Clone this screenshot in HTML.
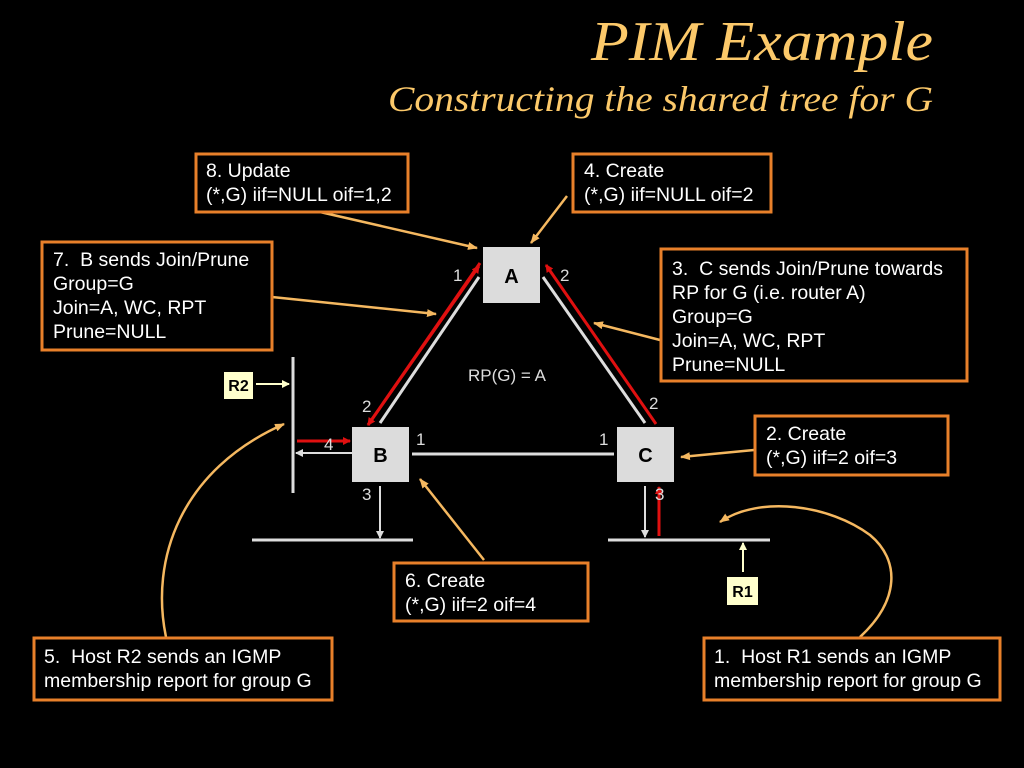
<!DOCTYPE html>
<html><head><meta charset="utf-8"><style>
html,body{margin:0;padding:0;background:#000;}
svg{display:block;}
.s{font-family:"Liberation Sans",sans-serif;}
.t{font-family:"Liberation Serif",serif;font-style:italic;}
</style></head><body>
<svg width="1024" height="768" viewBox="0 0 1024 768" xmlns="http://www.w3.org/2000/svg">
<defs>
<marker id="ow" markerWidth="8" markerHeight="8" refX="7" refY="4" orient="auto" markerUnits="userSpaceOnUse"><path d="M0,0 L8,4 L0,8 z" fill="#ddd"/></marker>
<marker id="or" markerWidth="8" markerHeight="8" refX="7" refY="4" orient="auto" markerUnits="userSpaceOnUse"><path d="M0,0 L8,4 L0,8 z" fill="#e01010"/></marker>
<marker id="oo" markerWidth="10" markerHeight="10" refX="9" refY="5" orient="auto" markerUnits="userSpaceOnUse"><path d="M0,1 L10,5 L0,9 z" fill="#f5b860"/></marker>
<marker id="oy" markerWidth="8" markerHeight="8" refX="7" refY="4" orient="auto" markerUnits="userSpaceOnUse"><path d="M0,0 L8,4 L0,8 z" fill="#ffffcc"/></marker>
</defs>
<rect width="1024" height="768" fill="#000"/>
<text class="t" x="933" y="60" text-anchor="end" font-size="56" fill="#fcc96a" textLength="342" lengthAdjust="spacingAndGlyphs">PIM Example</text>
<text class="t" x="933" y="111" text-anchor="end" font-size="36" fill="#fcc96a" textLength="545" lengthAdjust="spacingAndGlyphs">Constructing the shared tree for G</text>

<line x1="480" y1="263" x2="368" y2="425" stroke="#e01010" stroke-width="3" marker-end="url(#or)"/>
<line x1="368" y1="425" x2="479" y2="266" stroke="#e01010" stroke-width="3" marker-end="url(#or)"/>
<line x1="479" y1="277" x2="380" y2="423" stroke="#ddd" stroke-width="3"/>
<line x1="656" y1="424" x2="546" y2="265" stroke="#e01010" stroke-width="3" marker-end="url(#or)"/>
<line x1="543" y1="277" x2="645" y2="423" stroke="#ddd" stroke-width="3"/>
<line x1="412" y1="454" x2="614" y2="454" stroke="#ddd" stroke-width="3"/>
<line x1="293" y1="357" x2="293" y2="493" stroke="#ddd" stroke-width="3"/>
<line x1="297" y1="441" x2="350" y2="441" stroke="#e01010" stroke-width="3" marker-end="url(#or)"/>
<line x1="352" y1="453" x2="296" y2="453" stroke="#ddd" stroke-width="2" marker-end="url(#ow)"/>
<line x1="380" y1="486" x2="380" y2="538" stroke="#ddd" stroke-width="2" marker-end="url(#ow)"/>
<line x1="252" y1="540" x2="413" y2="540" stroke="#ddd" stroke-width="3"/>
<line x1="645" y1="486" x2="645" y2="537" stroke="#ddd" stroke-width="2" marker-end="url(#ow)"/>
<line x1="659" y1="536" x2="659" y2="487" stroke="#e01010" stroke-width="3" marker-end="url(#or)"/>
<line x1="608" y1="540" x2="770" y2="540" stroke="#ddd" stroke-width="3"/>
<line x1="743" y1="572" x2="743" y2="543" stroke="#ffffcc" stroke-width="2" marker-end="url(#oy)"/>
<line x1="256" y1="384" x2="289" y2="384" stroke="#ffffcc" stroke-width="2" marker-end="url(#oy)"/>

<rect x="483" y="247" width="57" height="56" fill="#dcdcdc"/>
<text class="s" x="511.5" y="283" text-anchor="middle" font-size="20" font-weight="bold" fill="#000">A</text>
<rect x="352" y="427" width="57" height="55" fill="#dcdcdc"/>
<text class="s" x="380.5" y="462" text-anchor="middle" font-size="20" font-weight="bold" fill="#000">B</text>
<rect x="617" y="427" width="57" height="55" fill="#dcdcdc"/>
<text class="s" x="645.5" y="462" text-anchor="middle" font-size="20" font-weight="bold" fill="#000">C</text>
<rect x="224" y="372" width="29" height="27" fill="#ffffcc"/>
<text class="s" x="238.5" y="391" text-anchor="middle" font-size="16" font-weight="bold" fill="#000">R2</text>
<rect x="727" y="577" width="31" height="28" fill="#ffffcc"/>
<text class="s" x="742.5" y="597" text-anchor="middle" font-size="16" font-weight="bold" fill="#000">R1</text>

<g class="s" font-size="17" fill="#ddd">
<text x="453" y="281">1</text><text x="560" y="281">2</text>
<text x="362" y="412">2</text><text x="416" y="445">1</text>
<text x="599" y="445">1</text><text x="649" y="409">2</text>
<text x="362" y="500">3</text><text x="655" y="500">3</text>
<text x="324" y="450">4</text>
<text x="468" y="381">RP(G) = A</text>
</g>

<g stroke="#f5b860" stroke-width="2.5" fill="none">
<line x1="320" y1="212" x2="477" y2="248" marker-end="url(#oo)"/>
<line x1="567" y1="196" x2="531" y2="243" marker-end="url(#oo)"/>
<line x1="272" y1="297" x2="436" y2="314" marker-end="url(#oo)"/>
<line x1="660" y1="340" x2="594" y2="323" marker-end="url(#oo)"/>
<line x1="754" y1="450" x2="681" y2="457" marker-end="url(#oo)"/>
<line x1="484" y1="560" x2="420" y2="479" marker-end="url(#oo)"/>
<path d="M166,637 C150,560 180,470 284,424" marker-end="url(#oo)"/>
<path d="M860,637 C900,600 900,560 870,535 C830,505 760,495 720,522" marker-end="url(#oo)"/>
</g>

<g stroke="#e8802a" stroke-width="3" fill="#000">
<rect x="196" y="154" width="212" height="58"/>
<rect x="573" y="154" width="198" height="58"/>
<rect x="42" y="242" width="230" height="108"/>
<rect x="661" y="249" width="306" height="132"/>
<rect x="755" y="416" width="193" height="59"/>
<rect x="394" y="563" width="194" height="58"/>
<rect x="34" y="638" width="298" height="62"/>
<rect x="704" y="638" width="296" height="62"/>
</g>
<g class="s" font-size="19.5" fill="#fff">
<text x="206" y="177">8. Update</text><text x="206" y="201">(*,G) iif=NULL oif=1,2</text>
<text x="584" y="177">4. Create</text><text x="584" y="201">(*,G) iif=NULL oif=2</text>
<text x="53" y="266">7.&#160; B sends Join/Prune</text><text x="53" y="290">Group=G</text><text x="53" y="314">Join=A, WC, RPT</text><text x="53" y="338">Prune=NULL</text>
<text x="672" y="275">3.&#160; C sends Join/Prune towards</text><text x="672" y="299">RP for G (i.e. router A)</text><text x="672" y="323">Group=G</text><text x="672" y="347">Join=A, WC, RPT</text><text x="672" y="371">Prune=NULL</text>
<text x="766" y="440">2. Create</text><text x="766" y="464">(*,G) iif=2 oif=3</text>
<text x="405" y="587">6. Create</text><text x="405" y="611">(*,G) iif=2 oif=4</text>
<text x="44" y="663">5.&#160; Host R2 sends an IGMP</text><text x="44" y="687">membership report for group G</text>
<text x="714" y="663">1.&#160; Host R1 sends an IGMP</text><text x="714" y="687">membership report for group G</text>
</g>
</svg>
</body></html>
